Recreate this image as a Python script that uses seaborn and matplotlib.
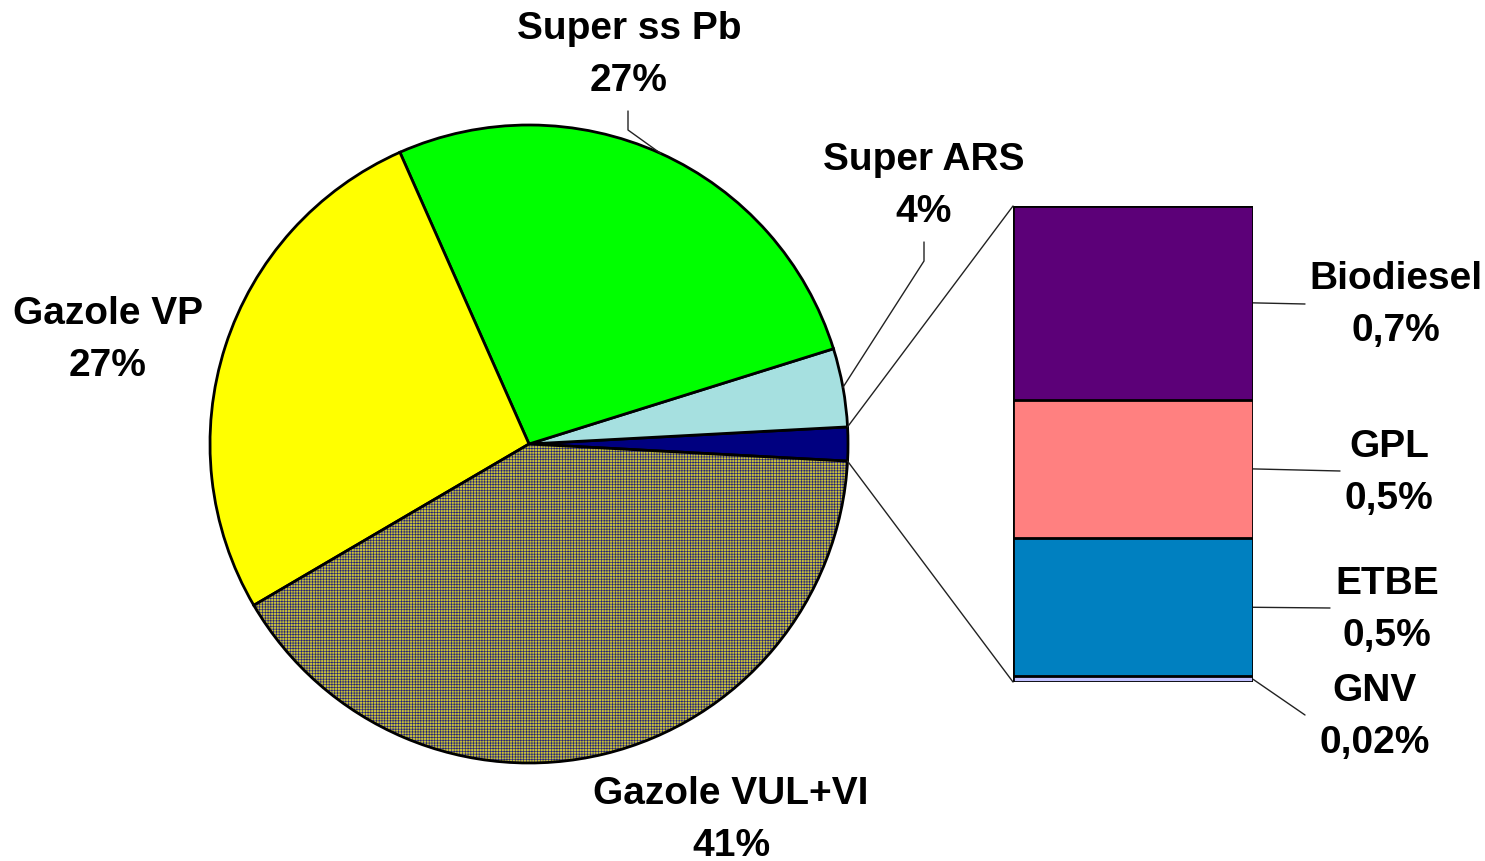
import matplotlib
matplotlib.use("Agg")
import matplotlib.pyplot as plt
import numpy as np
import seaborn as sns
from matplotlib.patches import Wedge, ConnectionPatch

sns.set_style("white")
plt.rcParams["font.family"] = ["Liberation Sans", "DejaVu Sans"]
plt.rcParams["text.color"] = "black"
plt.rcParams["hatch.linewidth"] = 0.45

# Pie data (order: counter-clockwise starting at 3 o'clock)
pie_labels = ["Autres", "Super ARS", "Super ss Pb", "Gazole VP", "Gazole VUL+VI"]
pie_values = [1.72, 4, 27, 27, 41]
pie_colors = ["#000080", "#A6E0E0", "#00FF00", "#FFFF00", "#C8C03A"]

# Detail bar (bottom to top)
bar_labels = ["GNV", "ETBE", "GPL", "Biodiesel"]
bar_values = [0.02, 0.5, 0.5, 0.7]
bar_colors = ["#C0C0FF", "#0080C0", "#FF8080", "#5C0078"]

W, H = 1485, 862
fig = plt.figure(figsize=(W / 100, H / 100), dpi=100)
ax = fig.add_axes([0, 0, 1, 1])


def px(x, y):
    # image pixel (y down) -> axes data (y up)
    return x, H - y


# Pie
others_angle = pie_values[0] / sum(pie_values) * 360
wedges, _ = ax.pie(pie_values, colors=pie_colors, startangle=-others_angle / 2,
                   center=px(529, 445), radius=319, counterclock=True,
                   wedgeprops=dict(edgecolor="black", linewidth=2))
# hatched Gazole VUL+VI slice (fine yellow / navy checker in the original)
gw = wedges[4]
gw.set_hatch("++++++")
gw.set_edgecolor("#20207A")
gw.set_linewidth(0)
ax.add_patch(Wedge(gw.center, gw.r, gw.theta1, gw.theta2, fill=False,
                   edgecolor="black", linewidth=2, zorder=gw.get_zorder() + 0.1))
ax.set_xlim(0, W)
ax.set_ylim(0, H)
ax.set_aspect("auto")
ax.axis("off")


def wedge_mid(w):
    a = np.deg2rad((w.theta1 + w.theta2) / 2)
    return w.center[0] + w.r * np.cos(a), w.center[1] + w.r * np.sin(a)


txt = dict(fontsize=28, fontweight="bold", ha="center", va="center",
           linespacing=1.55, color="black")

pie_text_pos = {"Super ss Pb": (629, 55), "Super ARS": (924, 186),
                "Gazole VP": (108, 340), "Gazole VUL+VI": (731, 820)}
for i, lab in enumerate(pie_labels[1:], start=1):
    x, y = px(*pie_text_pos[lab])
    ax.text(x, y, f"{lab}\n{pie_values[i]}%", **txt)

# leader lines with elbow
elbows = {"Super ss Pb": [(628, 112), (628, 131)], "Super ARS": [(924, 243), (924, 262)]}
for lab, pts in elbows.items():
    w = wedges[pie_labels.index(lab)]
    mx, my = wedge_mid(w)
    xs = [px(*p)[0] for p in pts] + [mx]
    ys = [px(*p)[1] for p in pts] + [my]
    ax.plot(xs, ys, color="#222222", linewidth=1)

# Stacked detail bar
ax_bar = fig.add_axes([1013 / W, (H - 683) / H, 240 / W, 476 / H])
cum = np.cumsum(bar_values)
for i in range(len(bar_values) - 1, -1, -1):
    sns.barplot(x=[0], y=[cum[i]], color=bar_colors[i], saturation=1, width=1,
                edgecolor="black", linewidth=2, ax=ax_bar)
ax_bar.set_xlim(-0.5, 0.5)
ax_bar.set_ylim(0, cum[-1])
ax_bar.axis("off")

# connector lines pie -> bar
ow = wedges[0]
for ang, yb in [(ow.theta2, cum[-1]), (ow.theta1, 0)]:
    a = np.deg2rad(ang)
    p = (ow.center[0] + ow.r * np.cos(a), ow.center[1] + ow.r * np.sin(a))
    con = ConnectionPatch(xyA=p, coordsA=ax.transData, xyB=(-0.5, yb), coordsB=ax_bar.transData,
                          color="#222222", linewidth=1)
    fig.add_artist(con)

# bar labels
bar_text_pos = {"Biodiesel": (1396, 305), "GPL": (1389, 473), "ETBE": (1387, 610), "GNV": (1375, 717)}
bar_leader_end = {"Biodiesel": (1305, 305), "GPL": (1340, 472), "ETBE": (1330, 609), "GNV": (1305, 716)}
for i, lab in enumerate(bar_labels):
    x, y = px(*bar_text_pos[lab])
    val = f"{bar_values[i]:g}".replace(".", ",")
    ax.text(x, y, f"{lab}\n{val}%", **txt)
    mid = cum[i] - bar_values[i] / 2
    ax.annotate("", xy=(0.5, mid), xycoords=ax_bar.transData,
                xytext=px(*bar_leader_end[lab]), textcoords="data",
                arrowprops=dict(arrowstyle="-", color="#222222", linewidth=1,
                                shrinkA=0, shrinkB=0))

fig.savefig("out.png", dpi=100)
